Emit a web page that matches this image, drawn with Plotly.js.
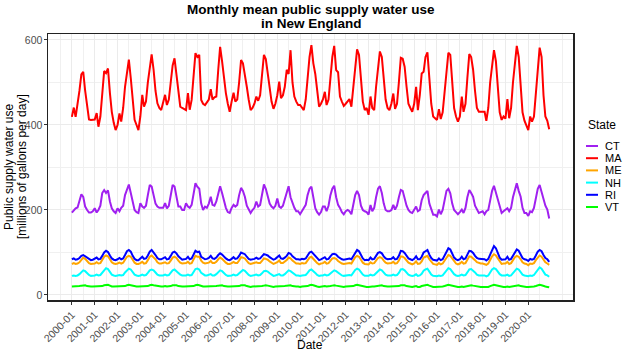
<!DOCTYPE html>
<html>
<head>
<meta charset="utf-8">
<script src="https://cdn.plot.ly/plotly-3.0.1.min.js"></script>
<style>html,body{margin:0;padding:0;background:#fff;}#chart{width:624px;height:353px;}</style>
</head>
<body>
<div id="chart"></div>
<script>
const years = [2000,2001,2002,2003,2004,2005,2006,2007,2008,2009,2010,2011,2012,2013,2014,2015,2016,2017,2018,2019,2020];
const monthNums = ['01','02','03','04','05','06','07','08','09','10','11','12'];
const dates = [];
years.forEach(y => monthNums.forEach(m => dates.push(y + '-' + m + '-01')));
const xTickVals = years.map(y => y + '-01-01');
const xTickText = years.map(y => y + '-01');
const xMinorVals = [1999].concat(years, [2021]).map(y => y + '-07-01');

const states = ['CT','MA','ME','NH','RI','VT'];
const colors = ['#A020F0','#FF0000','#FFA500','#00FFFF','#0000FF','#00FF00'];

const CT = [
 [194,200,204,206,220,237,231,208,200,194,194,197],
 [204,194,200,210,240,247,240,246,220,204,197,193],
 [204,197,205,210,235,250,260,240,215,200,195,193],
 [216,208,205,210,235,259,255,235,215,208,205,205],
 [205,216,204,210,235,259,255,230,208,208,200,200],
 [216,208,205,212,240,263,255,250,215,200,208,205],
 [215,231,212,210,220,240,256,240,220,205,195,193],
 [205,212,208,212,235,252,245,231,210,200,193,200],
 [205,220,208,212,235,260,250,231,215,208,204,210],
 [227,208,205,210,225,245,256,230,215,205,197,197],
 [190,197,204,212,235,250,255,230,204,195,189,195],
 [208,208,197,210,235,250,257,230,212,205,195,190],
 [197,200,197,190,215,235,245,235,210,200,197,195],
 [189,212,197,205,230,250,256,240,215,200,197,197],
 [200,212,201,210,230,247,245,227,210,200,195,193],
 [200,208,197,200,223,235,240,245,215,200,189,189],
 [185,201,190,200,225,245,250,239,215,200,195,190],
 [195,201,193,205,230,247,240,231,210,200,193,195],
 [197,190,197,200,225,245,257,240,227,205,193,197],
 [200,204,197,205,230,245,263,245,231,205,193,193],
 [186,197,195,205,230,250,259,240,227,210,201,180]
].flat();

const MA = [
 [419,441,419,445,480,519,525,480,440,413,412,413],
 [413,428,396,420,470,527,522,533,475,431,405,388],
 [400,427,408,440,490,530,554,510,460,412,400,388],
 [420,471,443,455,500,540,566,530,480,451,440,435],
 [450,471,447,460,500,540,557,520,470,443,440,438],
 [435,475,436,459,510,569,560,565,459,450,447,455],
 [460,484,460,465,467,530,584,550,510,475,450,431],
 [455,476,455,460,500,553,545,520,490,460,435,440],
 [450,467,457,470,520,565,555,520,480,455,438,450],
 [470,502,463,470,490,530,520,576,500,467,455,447],
 [447,440,435,460,520,560,588,545,520,475,443,450],
 [460,478,447,460,510,560,586,529,524,467,455,445],
 [450,455,461,443,490,540,578,565,500,455,435,440],
 [424,467,440,435,490,540,573,560,500,460,440,435],
 [450,474,438,450,500,558,556,537,490,450,440,431],
 [450,490,435,470,521,525,560,571,510,450,420,415],
 [412,437,414,430,480,530,570,565,500,440,420,408],
 [420,467,431,450,510,567,560,530,480,440,431,431],
 [431,431,410,440,500,545,576,550,480,430,412,420],
 [415,461,416,440,500,550,586,560,500,430,410,400],
 [388,420,408,420,480,540,582,560,470,420,410,390]
].flat();

const ME = [
 [73,75,73,74,77,84,88,85,80,75,73,73],
 [74,77,74,75,82,90,93,91,84,77,74,73],
 [74,76,74,76,83,90,92,90,83,76,73,73],
 [75,78,74,75,82,90,93,89,84,77,74,74],
 [75,77,74,75,81,88,90,87,81,76,74,74],
 [75,78,74,75,83,92,90,90,81,76,74,75],
 [76,80,75,75,78,84,88,85,80,76,73,73],
 [75,78,75,75,81,89,88,86,80,75,73,74],
 [75,77,75,75,80,86,85,83,79,75,73,75],
 [77,81,75,75,78,82,88,86,81,77,74,74],
 [73,75,74,75,82,88,90,86,80,75,72,74],
 [75,78,74,75,80,86,87,85,80,76,74,73],
 [74,75,75,74,81,89,92,90,83,76,73,73],
 [72,77,74,75,81,87,89,87,81,76,74,74],
 [75,78,74,75,81,91,90,87,81,76,74,72],
 [74,79,73,74,79,88,90,92,84,77,73,72],
 [71,75,72,74,81,90,94,92,85,78,74,72],
 [74,78,74,75,83,91,90,87,82,77,75,74],
 [74,73,71,74,83,91,96,93,86,78,73,74],
 [74,78,73,75,82,89,92,90,84,77,74,73],
 [70,74,73,75,82,89,93,90,83,77,74,71]
].flat();

const NH = [
 [45,46,45,46,49,55,58,56,51,47,45,45],
 [46,48,46,47,52,59,63,61,54,48,46,45],
 [46,47,46,47,53,59,62,60,53,48,46,45],
 [46,48,46,47,52,58,60,58,53,48,46,46],
 [46,48,46,47,52,58,60,57,52,48,46,46],
 [46,48,46,47,53,61,62,60,52,48,46,46],
 [47,49,46,46,49,54,58,56,51,47,45,45],
 [46,48,46,47,51,57,59,57,52,47,45,46],
 [46,48,46,47,51,56,57,55,51,47,45,46],
 [47,49,46,46,49,53,58,56,52,48,46,46],
 [45,46,46,47,52,58,60,57,52,47,45,46],
 [46,48,46,47,51,56,58,56,52,48,46,45],
 [46,46,47,46,52,59,62,60,54,48,45,45],
 [45,48,46,47,52,57,60,58,52,48,46,46],
 [46,48,46,47,52,60,61,58,52,48,46,45],
 [46,49,45,46,50,57,60,62,55,48,45,45],
 [44,46,45,46,52,59,63,61,55,49,46,45],
 [46,48,46,47,53,60,61,58,53,48,46,46],
 [46,46,44,46,53,60,63,61,55,49,46,46],
 [46,48,45,46,52,58,62,60,54,48,46,45],
 [44,46,45,47,53,60,65,62,54,48,46,43]
].flat();

const RI = [
 [84,86,83,84,87,92,94,91,87,84,82,83],
 [85,88,84,85,92,100,104,101,93,86,83,82],
 [84,87,84,86,94,103,106,102,92,85,82,82],
 [86,90,85,86,93,102,106,101,94,87,84,84],
 [86,89,84,85,92,100,102,98,91,86,83,84],
 [85,90,84,86,94,104,101,102,90,86,84,85],
 [87,92,86,85,88,94,98,95,90,86,83,82],
 [85,89,85,86,92,100,98,96,90,85,83,84],
 [85,88,85,86,91,96,95,93,89,85,83,85],
 [88,93,86,85,88,92,99,97,91,87,84,84],
 [83,85,84,86,93,100,102,97,90,85,82,84],
 [86,89,84,85,91,96,97,95,90,86,84,83],
 [84,85,86,84,92,101,106,103,93,86,82,83],
 [82,88,84,85,92,99,101,98,91,86,84,84],
 [85,89,84,85,92,104,103,99,91,86,84,82],
 [85,91,84,84,90,100,103,106,95,87,83,82],
 [81,86,82,84,92,103,110,107,96,88,84,82],
 [84,90,84,86,95,104,103,99,92,87,85,85],
 [85,84,81,85,95,106,115,110,98,88,83,84],
 [84,90,83,85,93,102,107,104,95,87,84,83],
 [80,85,83,85,93,102,106,103,94,87,84,78]
].flat();

const VT = [
 [20,20,20,20,21,22,23,23,21,20,20,20],
 [20,21,20,20,21,23,24,24,22,20,20,20],
 [20,21,20,20,21,23,24,23,22,20,20,20],
 [20,21,20,20,21,23,24,23,22,21,20,20],
 [20,21,20,20,21,23,23,23,21,20,20,20],
 [20,21,20,20,21,23,24,23,21,20,20,20],
 [21,21,20,20,21,22,23,23,21,20,20,20],
 [20,21,20,20,21,23,23,23,21,20,19,20],
 [20,21,20,20,21,22,23,22,21,20,19,20],
 [20,21,20,20,21,22,23,23,21,20,20,20],
 [19,20,20,20,21,23,24,23,21,20,19,20],
 [20,21,20,20,21,22,23,22,21,20,20,19],
 [20,20,20,20,21,23,24,23,22,20,19,19],
 [19,20,20,20,21,22,23,23,21,20,20,20],
 [20,21,20,20,21,23,23,23,21,20,19,19],
 [20,21,19,19,21,22,23,24,22,20,19,19],
 [19,20,19,20,21,23,24,23,22,20,19,19],
 [19,20,19,20,21,23,23,22,21,20,19,19],
 [19,19,19,19,21,23,24,23,22,20,19,19],
 [19,20,19,20,21,22,23,23,21,20,19,19],
 [19,19,19,20,21,23,24,23,21,20,19,18]
].flat();

const series = [CT, MA, ME, NH, RI, VT];
const yTicks = [0, 200, 400, 600];

const FONT = 'Liberation Sans, Arial, sans-serif';
const traces = states.map((s, i) => ({
  type: 'scatter', mode: 'lines', name: s,
  x: dates, y: series[i],
  line: {color: colors[i], width: 2},
  showlegend: false, hoverinfo: 'skip'
}));

// plot area in pixels
const L = 48, R = 573, T = 34, B = 300, W = 624, H = 353;
const px2x = px => (px - L) / (R - L);
const py2y = py => (B - py) / (B - T);

const shapes = [];
const annotations = [];
// title
annotations.push({xref:'paper', yref:'paper', x: px2x(311), y: py2y(9), xanchor:'center', yanchor:'middle',
  text:'<b>Monthly mean public supply water use</b>', showarrow:false, font:{family:FONT, size:13.5, color:'#000'}});
annotations.push({xref:'paper', yref:'paper', x: px2x(311), y: py2y(24), xanchor:'center', yanchor:'middle',
  text:'<b>in New England</b>', showarrow:false, font:{family:FONT, size:13.5, color:'#000'}});
// axis titles
annotations.push({xref:'paper', yref:'paper', x: px2x(310), y: py2y(345), xanchor:'center', yanchor:'middle',
  text:'Date', showarrow:false, font:{family:FONT, size:12, color:'#000'}});
annotations.push({xref:'paper', yref:'paper', x: px2x(1), y: py2y(167), xanchor:'left', yanchor:'middle',
  text:'Public supply water use', textangle:-90, showarrow:false, borderpad:0,
  font:{family:FONT, size:12, color:'#000'}});
annotations.push({xref:'paper', yref:'paper', x: px2x(14), y: py2y(167), xanchor:'left', yanchor:'middle',
  text:'[millions of gallons per day]', textangle:-90, showarrow:false, borderpad:0,
  font:{family:FONT, size:12, color:'#000'}});
// legend
annotations.push({xref:'paper', yref:'paper', x: px2x(586), y: py2y(125), xanchor:'left', yanchor:'middle',
  text:'State', showarrow:false, font:{family:FONT, size:12, color:'#000'}});
states.forEach((s, i) => {
  const py = 146 + i * 12.2;
  shapes.push({type:'line', xref:'paper', yref:'paper', x0: px2x(586), x1: px2x(598), y0: py2y(py), y1: py2y(py),
    line:{color: colors[i], width: 2}});
  annotations.push({xref:'paper', yref:'paper', x: px2x(603), y: py2y(py), xanchor:'left', yanchor:'middle',
    text: s, showarrow:false, font:{family:FONT, size:11, color:'#000'}});
});

const layout = {
  width: W, height: H,
  margin: {l: L, r: W - R, t: T, b: H - B, pad: 0},
  paper_bgcolor: '#fff', plot_bgcolor: '#fff',
  font: {family: FONT, color: '#000'},
  xaxis: {
    type: 'date', range: ['1998-12-15', '2021-12-17'],
    tickvals: xTickVals, ticktext: xTickText, tickangle: -45,
    tickfont: {family: FONT, size: 10.5, color: '#4d4d4d'},
    ticks: 'outside', ticklen: 3, tickcolor: '#333', tickwidth: 1,
    showgrid: true, gridcolor: '#ebebeb', gridwidth: 1,
    minor: {tickvals: xMinorVals, showgrid: true, gridcolor: '#f0f0f0', gridwidth: 1, ticks: ''},
    showline: true, mirror: true, linecolor: '#222', linewidth: 1.5,
    zeroline: false
  },
  yaxis: {
    range: [-11.8, 614.1],
    tickvals: yTicks, ticktext: yTicks.map(String),
    tickfont: {family: FONT, size: 10.5, color: '#4d4d4d'},
    ticks: 'outside', ticklen: 3, tickcolor: '#333', tickwidth: 1,
    ticklabelstandoff: -1,
    showgrid: true, gridcolor: '#ebebeb', gridwidth: 1,
    minor: {tickvals: [100, 300, 500], showgrid: true, gridcolor: '#f0f0f0', gridwidth: 1, ticks: ''},
    showline: true, mirror: true, linecolor: '#222', linewidth: 1.5,
    zeroline: false
  },
  shapes: shapes,
  annotations: annotations
};

Plotly.newPlot('chart', traces, layout, {staticPlot: true, displayModeBar: false});
</script>
</body>
</html>
